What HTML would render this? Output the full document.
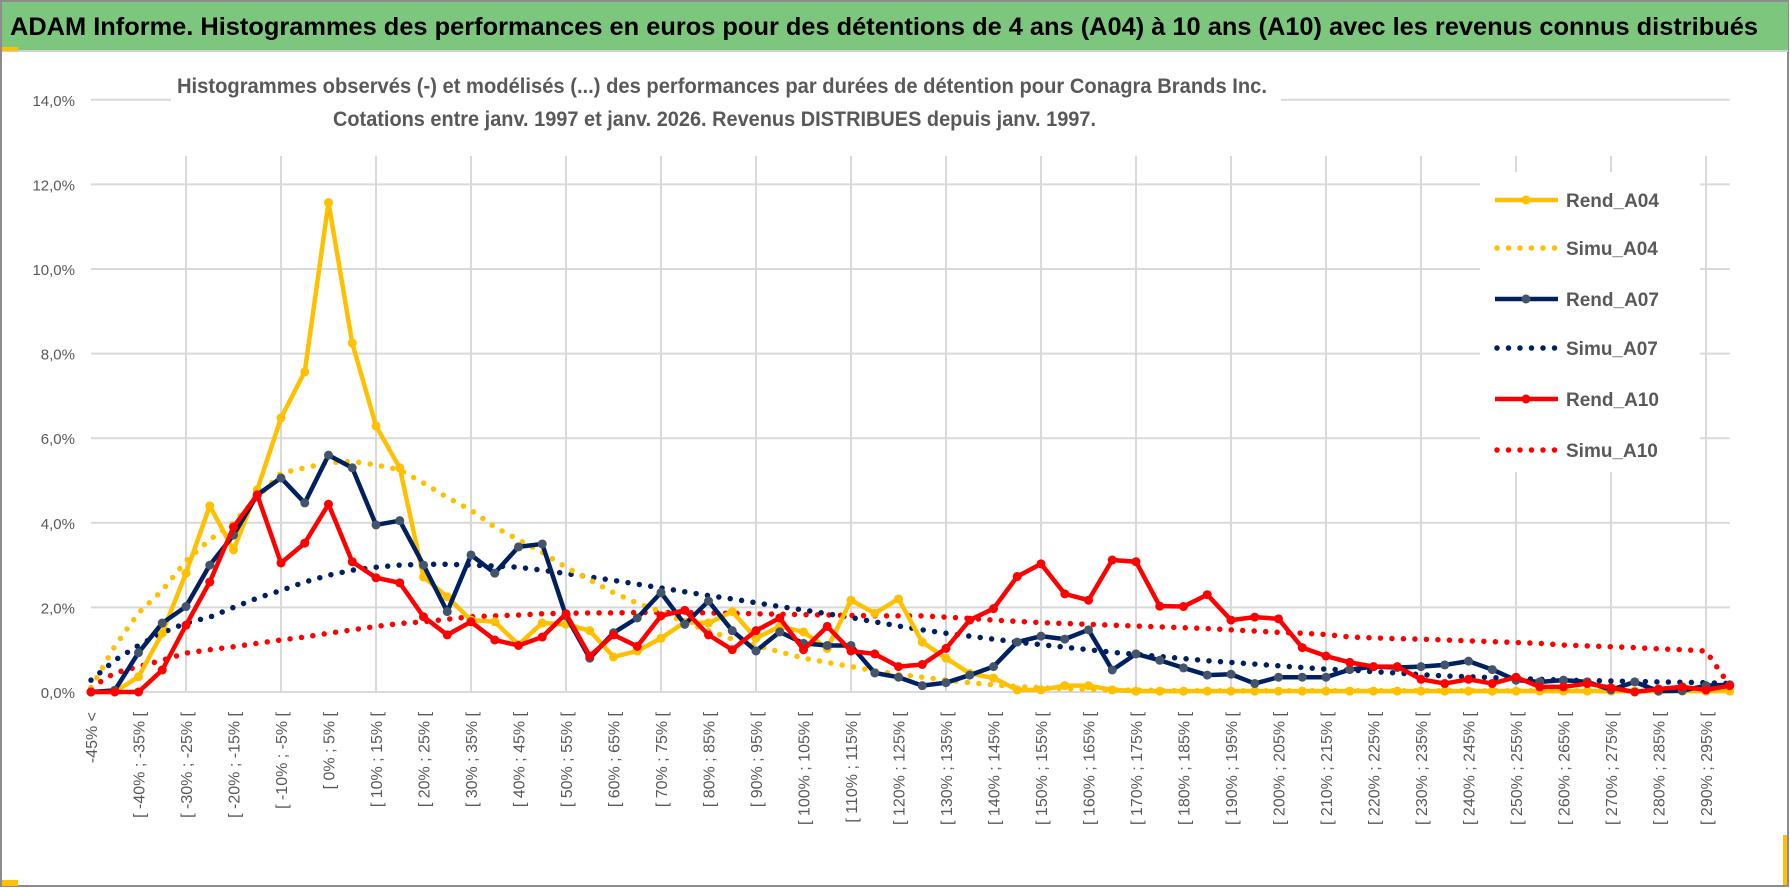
<!DOCTYPE html>
<html><head><meta charset="utf-8"><style>
body{margin:0;background:#fff;}
svg{display:block;font-family:"Liberation Sans",sans-serif;}
</style></head><body>
<svg id="chart" width="1790" height="888" viewBox="0 0 1790 888" xmlns="http://www.w3.org/2000/svg">
<rect x="0" y="0" width="1790" height="888" fill="#fff"/>
<rect x="1" y="1" width="1787" height="885" fill="none" stroke="#8c8c8c" stroke-width="2"/>
<rect x="2" y="2" width="1786" height="48" fill="#7DC67E"/>
<line x1="2" y1="51" x2="1788" y2="51" stroke="#d0d0d0" stroke-width="2"/>
<rect x="2" y="47" width="16" height="4" fill="#FFC000"/>
<rect x="2" y="880" width="16" height="6" fill="#FFC000"/>
<rect x="1783" y="835" width="4" height="50" fill="#FFC000"/>
<text x="10" y="35" font-size="25" font-weight="bold" fill="#000" textLength="1748" lengthAdjust="spacingAndGlyphs">ADAM Informe. Histogrammes des performances en euros pour des détentions de 4 ans (A04) à 10 ans (A10) avec les revenus connus distribués</text>
<g id="grid"></g>
<rect x="171" y="62" width="1110" height="88" fill="#fff"/>
<text x="177" y="93" font-size="21" font-weight="bold" fill="#595959" textLength="1090" lengthAdjust="spacingAndGlyphs">Histogrammes observés (-) et modélisés (...) des performances par durées de détention pour Conagra Brands Inc.</text>
<text x="333" y="126" font-size="21" font-weight="bold" fill="#595959" textLength="763" lengthAdjust="spacingAndGlyphs">Cotations entre janv. 1997 et janv. 2026. Revenus DISTRIBUES depuis janv. 1997.</text>
<g id="yaxis"></g>
<g id="xaxis"></g>
<g id="series"></g>
<rect x="1480" y="172" width="220" height="300" fill="#fff"/>
<g id="legend"></g>
</svg>
<script>
const categories = ["-45% <"];
for (let k = -45; k < 300; k += 5) categories.push("[ " + k + "% ; " + (k + 5) + "% [");
const yTicks = [0, 2, 4, 6, 8, 10, 12, 14];
const yTickLabels = ["0,0%", "2,0%", "4,0%", "6,0%", "8,0%", "10,0%", "12,0%", "14,0%"];
const rendA04 = [0,0,0.36,1.39,2.81,4.4,3.36,4.78,6.48,7.57,11.57,8.25,6.29,5.3,2.72,2.25,1.7,1.66,1.12,1.63,1.6,1.45,0.83,0.97,1.27,1.65,1.63,1.9,1.27,1.55,1.42,1.03,2.17,1.86,2.2,1.18,0.8,0.44,0.33,0.05,0.05,0.15,0.15,0.05,0.02,0.02,0.02,0.02,0.02,0.02,0.02,0.02,0.02,0.02,0.02,0.02,0.02,0.02,0.02,0.02,0.02,0.02,0.02,0.02,0.02,0.02,0.02,0.02,0.02,0.02];
const simuA04 = [0.1,1.08,1.87,2.4,3.1,3.6,4.0,4.6,5.17,5.3,5.42,5.45,5.37,5.25,4.94,4.6,4.3,3.9,3.6,3.3,2.95,2.65,2.35,2.1,1.9,1.65,1.45,1.25,1.1,0.95,0.8,0.7,0.6,0.5,0.42,0.35,0.28,0.22,0.17,0.13,0.1,0.08,0.06,0.05,0.04,0.04,0.03,0.03,0.03,0.03,0.03,0.03,0.03,0.03,0.03,0.03,0.03,0.03,0.03,0.03,0.03,0.03,0.03,0.03,0.03,0.03,0.03,0.03,0.03,0.03];
const rendA07 = [0,0.04,0.93,1.63,2.02,3.0,3.71,4.66,5.06,4.47,5.6,5.3,3.95,4.05,3.0,1.9,3.24,2.81,3.43,3.5,1.8,0.8,1.4,1.75,2.35,1.6,2.15,1.45,0.97,1.42,1.15,1.1,1.1,0.45,0.35,0.15,0.22,0.4,0.6,1.18,1.32,1.25,1.47,0.52,0.9,0.75,0.57,0.4,0.42,0.2,0.35,0.35,0.35,0.53,0.6,0.58,0.6,0.64,0.73,0.53,0.28,0.24,0.28,0.24,0.05,0.24,0.02,0.03,0.15,0.17];
const simuA07 = [0.28,0.75,1.1,1.4,1.63,1.77,2.0,2.22,2.4,2.6,2.76,2.88,2.95,3.0,3.02,3.02,3.0,2.98,2.95,2.88,2.8,2.72,2.64,2.55,2.46,2.37,2.28,2.2,2.11,2.02,1.94,1.85,1.76,1.66,1.56,1.47,1.39,1.32,1.25,1.18,1.12,1.06,1.0,0.94,0.89,0.84,0.79,0.74,0.7,0.66,0.62,0.58,0.54,0.52,0.48,0.45,0.41,0.38,0.36,0.34,0.32,0.3,0.28,0.27,0.26,0.25,0.24,0.23,0.22,0.2];
const rendA10 = [0,0,0,0.52,1.58,2.6,3.9,4.66,3.05,3.52,4.44,3.08,2.7,2.58,1.78,1.35,1.66,1.23,1.1,1.3,1.85,0.85,1.35,1.08,1.8,1.93,1.35,1.0,1.45,1.75,1.0,1.55,0.97,0.9,0.6,0.65,1.03,1.7,1.97,2.73,3.03,2.32,2.17,3.12,3.08,2.03,2.02,2.3,1.7,1.77,1.73,1.05,0.85,0.7,0.6,0.6,0.3,0.2,0.3,0.2,0.35,0.12,0.12,0.2,0.1,0.0,0.07,0.12,0.05,0.15];
const simuA10 = [0.1,0.45,0.6,0.75,0.92,1.0,1.07,1.15,1.23,1.3,1.39,1.47,1.55,1.62,1.66,1.72,1.78,1.8,1.82,1.85,1.86,1.87,1.87,1.88,1.88,1.88,1.87,1.86,1.85,1.84,1.83,1.82,1.81,1.8,1.8,1.8,1.77,1.74,1.7,1.67,1.64,1.62,1.6,1.58,1.56,1.54,1.52,1.5,1.47,1.44,1.41,1.39,1.36,1.3,1.28,1.26,1.25,1.23,1.21,1.19,1.17,1.15,1.11,1.09,1.07,1.05,1.02,1.0,0.97,0.15];

const NS = "http://www.w3.org/2000/svg";
const X0 = 91, STEP = 23.75, Y0 = 692, PER = 42.3;
function xScale(i){ return X0 + i * STEP; }
function yScale(v){ return Y0 - v * PER; }
function mk(tag, attrs, parent){
  const el = document.createElementNS(NS, tag);
  for (const k in attrs) el.setAttribute(k, attrs[k]);
  parent.appendChild(el);
  return el;
}
const grid = document.getElementById("grid");
const xEnd = xScale(categories.length - 1);
yTicks.forEach((t, j) => {
  const l = mk("line", {x1: X0, x2: xEnd, y1: yScale(t), y2: yScale(t), stroke: "#d9d9d9", "stroke-width": 2}, grid);
  
  
});
for (let i = 4; i < categories.length; i += 4) {
  const l = mk("line", {x1: xScale(i), x2: xScale(i), y1: 156, y2: Y0, stroke: "#d9d9d9", "stroke-width": 2}, grid);
  
  
}
const yaxis = document.getElementById("yaxis");
yTicks.forEach((t, j) => {
  const tx = mk("text", {x: 75, y: yScale(t) + 6, "text-anchor": "end", "font-size": 15, fill: "#595959"}, yaxis);
  tx.textContent = yTickLabels[j];
  
  
});
const xaxis = document.getElementById("xaxis");
categories.forEach((c, i) => {
  if (i % 2) return;
  const x = xScale(i) + 6, y = 712;
  const tx = mk("text", {x: x, y: y, "text-anchor": "end", "font-size": 16, fill: "#595959", transform: "rotate(-90 " + x + " " + y + ")"}, xaxis);
  tx.textContent = c;
  
  
});
const series = document.getElementById("series");
function pts(arr){ return arr.map((v, i) => xScale(i) + "," + yScale(v)).join(" "); }
function dotted(arr, color, name){
  const p = mk("polyline", {points: pts(arr), fill: "none", stroke: color, "stroke-width": 5.5, "stroke-linecap": "round", "stroke-dasharray": "0 11.5"}, series);
  
  
}
function solid(arr, color, mcolor, name){
  const g = mk("g", {}, series);
  
  
  mk("polyline", {points: pts(arr), fill: "none", stroke: color, "stroke-width": 4.5, "stroke-linejoin": "round"}, g);
  arr.forEach((v, i) => {
    const c = mk("circle", {cx: xScale(i), cy: yScale(v), r: 4.5, fill: mcolor}, g);
    
    
  });
}
dotted(simuA10, "#FF0000", "simu-a10-line");
dotted(simuA07, "#002060", "simu-a07-line");
dotted(simuA04, "#FFC000", "simu-a04-line");
solid(rendA04, "#FFC000", "#FFC000", "rend-a04-line");
solid(rendA07, "#002060", "#44546A", "rend-a07-line");
solid(rendA10, "#FF0000", "#FF0000", "rend-a10-line");

const legend = document.getElementById("legend");
const legendNames = ["Rend_A04", "Simu_A04", "Rend_A07", "Simu_A07", "Rend_A10", "Simu_A10"];
const legendColors = ["#FFC000", "#FFC000", "#002060", "#002060", "#FF0000", "#FF0000"];
const legendMarker = ["#FFC000", null, "#44546A", null, "#FF0000", null];
const legendY = [200, 248, 299, 348, 399, 450];
legendNames.forEach((n, k) => {
  const g = mk("g", {}, legend);
  
  
  const y = legendY[k];
  if (legendMarker[k]) {
    mk("line", {x1: 1495, x2: 1558, y1: y, y2: y, stroke: legendColors[k], "stroke-width": 4.5}, g);
    mk("circle", {cx: 1526, cy: y, r: 4.5, fill: legendMarker[k]}, g);
  } else {
    mk("line", {x1: 1497, x2: 1558, y1: y, y2: y, stroke: legendColors[k], "stroke-width": 5.5, "stroke-linecap": "round", "stroke-dasharray": "0 11.5"}, g);
  }
  const t = mk("text", {x: 1566, y: y + 7, "font-size": 19, "font-weight": "bold", fill: "#595959"}, g);
  t.textContent = n;
});
</script>
</body></html>
